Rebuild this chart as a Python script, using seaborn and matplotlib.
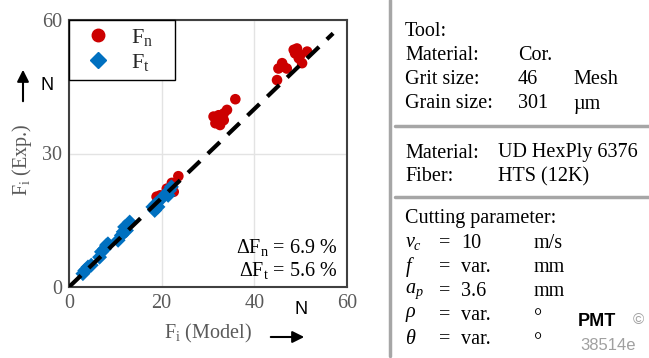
import numpy as np
import pandas as pd
import matplotlib
matplotlib.use("Agg")
import matplotlib.pyplot as plt
import seaborn as sns
from matplotlib.lines import Line2D

# ---------------- data ----------------
fn_model = [44.9, 45.2, 46.0, 47.0, 46.3, 48.5, 49.2, 48.8, 49.9, 50.3, 51.4, 49.6,
            31.2, 31.9, 32.6, 33.4, 34.1, 35.9, 32.3, 33.4, 31.6,
            23.6, 22.2, 21.1, 19.7, 18.9, 22.6]
fn_exp = [46.5, 49.1, 50.3, 49.1, 49.5, 53.3, 53.6, 52.5, 52.1, 50.3, 52.9, 51.4,
          38.3, 37.5, 36.4, 39.0, 39.8, 42.2, 38.6, 37.5, 36.8,
          24.9, 23.4, 22.1, 20.6, 20.3, 21.4]
ft_model = [3.4, 4.1, 4.8, 3.0, 3.8,
            6.6, 7.7, 8.1, 7.0, 8.4,
            10.6, 11.3, 12.0, 13.1, 12.4, 11.7,
            18.5, 18.8, 19.6, 18.1, 19.2,
            21.0, 21.7, 22.1, 21.4]
ft_exp = [3.7, 4.5, 4.9, 3.0, 4.0,
          6.7, 8.6, 9.4, 7.9, 9.7,
          10.5, 11.6, 13.5, 14.6, 12.7, 12.4,
          17.2, 18.7, 19.5, 18.0, 18.0,
          21.0, 21.7, 22.5, 20.6]
ref_line = [0, 57]
x_ticks = [0, 20, 40, 60]
y_ticks = [0, 30, 60]
dev_fn = 6.9
dev_ft = 5.6

W, H = 649, 358
RED = "#CC0000"
BLUE = "#0070C0"
GREY = "#595959"

sns.set_theme(style="white")
plt.rcParams["font.family"] = ["Liberation Serif", "DejaVu Serif"]
plt.rcParams["mathtext.fontset"] = "custom"
plt.rcParams["mathtext.rm"] = "Liberation Serif"
plt.rcParams["mathtext.it"] = "Liberation Serif:italic"
plt.rcParams["mathtext.bf"] = "Liberation Serif:bold"
FS = 14.5

df = pd.DataFrame({
    "Model": fn_model + ft_model,
    "Exp": fn_exp + ft_exp,
    "Force": ["Fn"] * len(fn_model) + ["Ft"] * len(ft_model),
})

fig = plt.figure(figsize=(W / 100, H / 100), dpi=100)

def fx(px):
    return px / W

def fy(py):
    return 1 - py / H

ax = fig.add_axes([fx(69), fy(287), (347 - 69) / W, (287 - 20) / H])

ax.grid(True, color="#e3e3e3", lw=1)
ax.set_axisbelow(True)

sns.lineplot(x=ref_line, y=ref_line, ax=ax, color="black", lw=3,
             linestyle=(0, (4, 2.6)), zorder=3)
sns.scatterplot(data=df, x="Model", y="Exp", hue="Force", style="Force",
                palette={"Fn": RED, "Ft": BLUE}, markers={"Fn": "o", "Ft": "D"},
                s=58, linewidth=0, ax=ax, legend=False, zorder=2)

ax.set_xlim(0, 60)
ax.set_ylim(0, 60)
ax.set_xticks(x_ticks)
ax.set_yticks(y_ticks)
ax.set_xlabel("")
ax.set_ylabel("")
ax.tick_params(direction="in", length=4, width=1.2, colors="#404040",
               labelcolor=GREY, labelsize=FS, pad=5)
for s in ax.spines.values():
    s.set_color("#404040")
    s.set_linewidth(1.5)

handles = [Line2D([], [], marker="o", color=RED, ls="none", markersize=9),
           Line2D([], [], marker="D", color=BLUE, ls="none", markersize=8)]
leg = ax.legend(handles, [r"F$_\mathregular{n}$", r"F$_\mathregular{t}$"],
                loc="upper left", bbox_to_anchor=(0, 0.5, 106 / 278, 0.5),
                mode="expand", borderaxespad=0,
                fancybox=False, framealpha=1, edgecolor="black", fontsize=16,
                handlelength=2.0, handletextpad=0.5, borderpad=0.3,
                labelspacing=0.2)
leg.get_frame().set_linewidth(1.0)

ax.text(57.9, 8.8, r"$\Delta$F$_\mathregular{n}$ = %.1f %%" % dev_fn,
        ha="right", va="center", fontsize=FS, color="black")
ax.text(57.9, 3.6, r"$\Delta$F$_\mathregular{t}$ = %.1f %%" % dev_ft,
        ha="right", va="center", fontsize=FS, color="black")

# axis labels with arrows
fig.text(fx(22), fy(160), r"F$_\mathregular{i}$ (Exp.)", rotation=90,
         ha="center", va="center", fontsize=FS, color=GREY)
fig.text(fx(47), fy(85), "N", ha="center", va="center", fontsize=13,
         family="Liberation Sans", color="black")
fig.text(fx(208), fy(333), r"F$_\mathregular{i}$ (Model)",
         ha="center", va="center", fontsize=FS, color=GREY)
fig.text(fx(301), fy(310), "N", ha="center", va="center", fontsize=13,
         family="Liberation Sans", color="black")
fig.add_artist(matplotlib.patches.FancyArrowPatch(
    (fx(23), fy(104)), (fx(23), fy(67)), transform=fig.transFigure,
    arrowstyle="-|>,head_length=7,head_width=3.5", color="black", lw=1.5,
    mutation_scale=1))
fig.add_artist(matplotlib.patches.FancyArrowPatch(
    (fx(268), fy(337)), (fx(307), fy(337)), transform=fig.transFigure,
    arrowstyle="-|>,head_length=7,head_width=3.5", color="black", lw=1.5,
    mutation_scale=1))

# right panel
fig.add_artist(Line2D([fx(390), fx(390)], [fy(0), fy(356)],
                      transform=fig.transFigure, color="#a6a6a6", lw=2.5))
for py in (126, 197):
    fig.add_artist(Line2D([fx(395), fx(649)], [fy(py), fy(py)],
                          transform=fig.transFigure, color="#a6a6a6", lw=2.5))

def t(px, py, s, **kw):
    fig.text(fx(px), fy(py), s, ha="left", va="center", fontsize=FS,
             color="black", **kw)

t(405, 32, "Tool:")
t(405, 56, "Material:"); t(518, 56, "Cor.")
t(405, 80, "Grit size:"); t(518, 80, "46"); t(573, 80, "Mesh")
t(405, 104, "Grain size:"); t(518, 104, "301"); t(573, 104, "µm")
t(405, 153, "Material:"); t(498, 153, "UD HexPly 6376")
t(405, 177, "Fiber:"); t(498, 177, "HTS (12K)")
t(405, 219, "Cutting parameter:")
rows = [(243, r"$v_c$", "10", "m/s"), (267, r"$f$", "var.", "mm"),
        (291, r"$a_p$", "3.6", "mm"), (315, r"$\rho$", "var.", "°"),
        (339, r"$\theta$", "var.", "°")]
for py, sym, val, unit in rows:
    t(405, py, sym)
    t(439, py, "=")
    t(461, py, val)
    t(534, py + (4 if unit == "°" else 0), unit)

fig.text(fx(578), fy(322), "PMT", ha="left", va="center", fontsize=13,
         family="Liberation Sans", weight="bold", color="black")
fig.text(fx(633), fy(320), "©", ha="left", va="center", fontsize=11,
         family="Liberation Sans", color="#a0a0a0")
fig.text(fx(580), fy(345), "38514e", ha="left", va="center", fontsize=12,
         family="Liberation Sans", color="#a0a0a0")

fig.savefig("out.png", dpi=100)
